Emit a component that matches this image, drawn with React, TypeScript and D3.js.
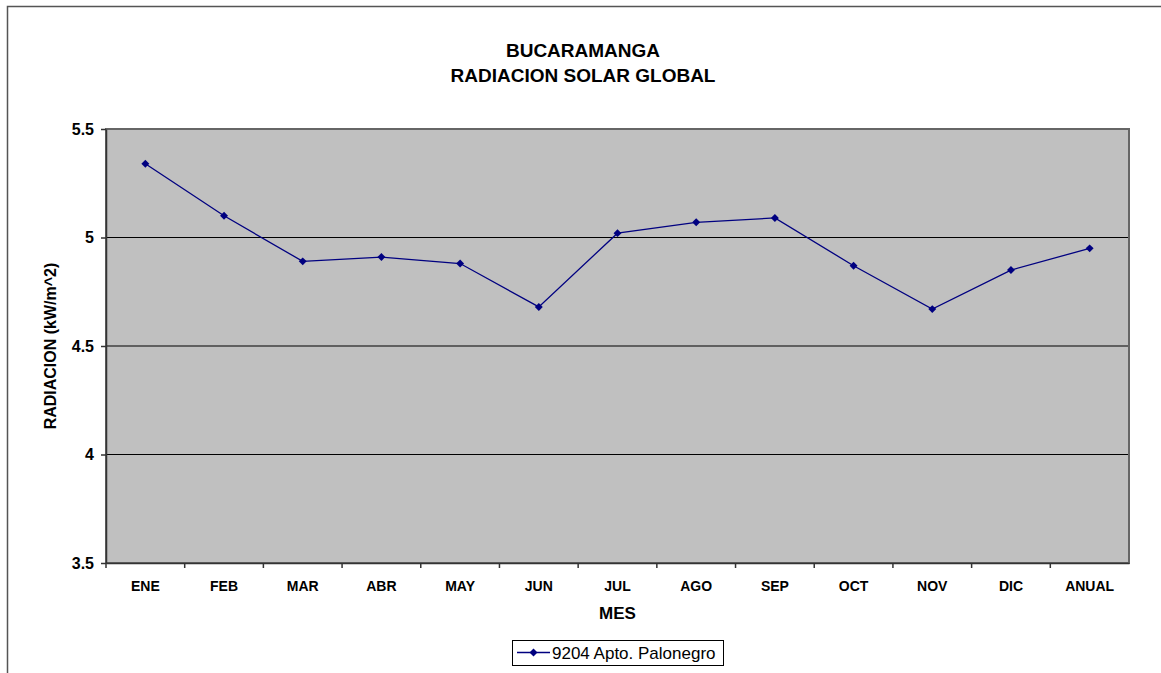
import React, { useEffect, useRef } from 'react';
import * as d3 from 'd3';

const months = ['ENE', 'FEB', 'MAR', 'ABR', 'MAY', 'JUN', 'JUL', 'AGO', 'SEP', 'OCT', 'NOV', 'DIC', 'ANUAL'];
const radiation = [5.34, 5.10, 4.89, 4.91, 4.88, 4.68, 5.02, 5.07, 5.09, 4.87, 4.67, 4.85, 4.95];
const yTicks = [3.5, 4, 4.5, 5, 5.5];
const seriesName = '9204 Apto. Palonegro';

const App = () => {
  const svgRef = useRef<SVGSVGElement>(null);

  useEffect(() => {
    const width = 1161;
    const height = 673;
    const left = 106, right = 1129, top = 129, bottom = 563;
    const font = "'Liberation Sans', Arial, sans-serif";

    const svg = d3.select(svgRef.current);
    svg.selectAll('*').remove();
    svg.attr('width', width).attr('height', height).style('font-family', font);

    svg.append('rect').attr('width', width).attr('height', height).attr('fill', '#fff');

    // outer frame (only top and left visible)
    svg.append('path')
      .attr('d', `M7.5,${height} V6.5 H${width}`)
      .attr('fill', 'none').attr('stroke', '#555').attr('stroke-width', 1.5);

    // titles
    svg.append('text').attr('x', 583).attr('y', 57).attr('text-anchor', 'middle')
      .style('font-size', '19px').style('font-weight', 'bold').text('BUCARAMANGA');
    svg.append('text').attr('x', 583).attr('y', 82).attr('text-anchor', 'middle')
      .style('font-size', '19px').style('font-weight', 'bold').text('RADIACION SOLAR GLOBAL');

    const x = d3.scaleBand().domain(months).range([left, right]);
    const y = d3.scaleLinear().domain([3.5, 5.5]).range([bottom, top]);

    // plot area
    svg.append('rect')
      .attr('x', left).attr('y', top).attr('width', right - left).attr('height', bottom - top)
      .attr('fill', '#c0c0c0');

    // grid
    svg.append('g')
      .selectAll('line')
      .data(yTicks.slice(1, -1))
      .join('line')
      .attr('x1', left).attr('x2', right)
      .attr('y1', d => y(d)).attr('y2', d => y(d))
      .attr('stroke', '#000').attr('stroke-width', 1);

    // border
    svg.append('rect')
      .attr('x', left).attr('y', top).attr('width', right - left).attr('height', bottom - top)
      .attr('fill', 'none').attr('stroke', '#666').attr('stroke-width', 2);

    // y axis
    const yAxis = svg.append('g')
      .attr('transform', `translate(${left},0)`)
      .call(d3.axisLeft(y).tickValues(yTicks).tickFormat(d3.format('')).tickSize(5).tickSizeOuter(0));
    yAxis.select('.domain').attr('stroke', '#333').attr('stroke-width', 1.5);
    yAxis.selectAll('.tick line').attr('stroke', '#333').attr('stroke-width', 1.5);
    yAxis.selectAll('text')
      .attr('x', -12)
      .style('font-size', '16px').style('font-weight', 'bold').style('font-family', font).attr('fill', '#000');

    // x axis
    const xAxis = svg.append('g')
      .attr('transform', `translate(0,${bottom})`)
      .call(d3.axisBottom(x).tickSize(0).tickSizeOuter(0));
    xAxis.select('.domain').attr('stroke', '#333').attr('stroke-width', 1.5);
    xAxis.selectAll('text')
      .attr('y', 18)
      .style('font-size', '14px').style('font-weight', 'bold').style('font-family', font).attr('fill', '#000');
    svg.append('g')
      .selectAll('line')
      .data(months)
      .join('line')
      .attr('x1', d => x(d)!).attr('x2', d => x(d)!)
      .attr('y1', bottom).attr('y2', bottom + 5)
      .attr('stroke', '#333').attr('stroke-width', 1.5);

    // axis titles
    svg.append('text').attr('x', (left + right) / 2).attr('y', 619).attr('text-anchor', 'middle')
      .style('font-size', '17px').style('font-weight', 'bold').text('MES');
    svg.append('text')
      .attr('transform', `translate(56,${(top + bottom) / 2}) rotate(-90)`)
      .attr('text-anchor', 'middle')
      .style('font-size', '16px').style('font-weight', 'bold').text('RADIACION (kW/m^2)');

    // line
    const line = d3.line<number>()
      .x((_, i) => x(months[i])! + x.bandwidth() / 2)
      .y(d => y(d));
    svg.append('path')
      .datum(radiation)
      .attr('d', line)
      .attr('fill', 'none').attr('stroke', '#000080').attr('stroke-width', 1.3);

    const diamond = d3.symbol().type(d3.symbolDiamond2).size(40);
    svg.append('g')
      .selectAll('path')
      .data(radiation)
      .join('path')
      .attr('transform', (d, i) => `translate(${x(months[i])! + x.bandwidth() / 2},${y(d)})`)
      .attr('d', diamond)
      .attr('fill', '#000080');

    // legend
    const lg = svg.append('g').attr('transform', 'translate(512,640)');
    lg.append('rect').attr('x', 0.5).attr('y', 0.5).attr('width', 211).attr('height', 25)
      .attr('fill', '#fff').attr('stroke', '#000').attr('stroke-width', 1);
    lg.append('line').attr('x1', 5).attr('x2', 38).attr('y1', 12.5).attr('y2', 12.5)
      .attr('stroke', '#000080').attr('stroke-width', 1.3);
    lg.append('path').attr('transform', 'translate(21.5,12.5)').attr('d', diamond).attr('fill', '#000080');
    lg.append('text').attr('x', 40).attr('y', 19)
      .style('font-size', '17px').text(seriesName);
  }, []);

  return <svg ref={svgRef} style={{ position: 'absolute', left: 0, top: 0 }}></svg>;
};

export default App;
